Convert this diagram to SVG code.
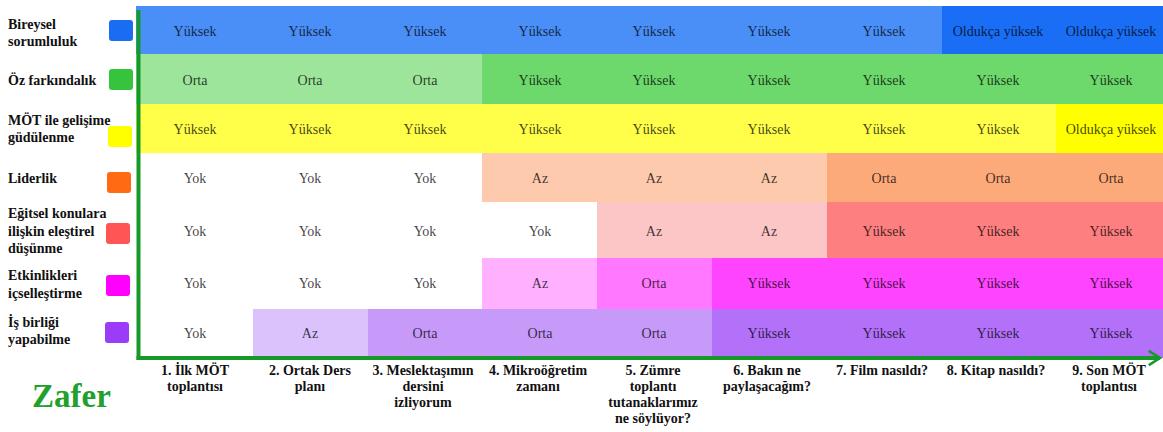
<svg xmlns="http://www.w3.org/2000/svg" width="1163" height="432" viewBox="0 0 1163 432">
  <style>
    text { font-family: "Liberation Serif", "Tinos", "Times New Roman", "DejaVu Serif", serif; }
    .lbl { font-weight: bold; font-size: 14px; fill: #111; }
    .col { font-weight: bold; font-size: 14px; fill: #111; text-anchor: middle; }
    .v { font-size: 14px; fill: #000; fill-opacity: 0.75; text-anchor: middle; }
    .title { font-weight: bold; font-size: 33px; fill: #22a02c; }
    .sw { rx: 3; ry: 3; }
    .cell { shape-rendering: crispEdges; }
    .axis { stroke: #17992a; stroke-width: 4; fill: none; }
  </style>
  <defs>
    <marker id="arrowhead" viewBox="0 0 10 10" refX="8" refY="5" markerWidth="4" markerHeight="5" orient="auto" markerUnits="strokeWidth">
      <polyline points="1,0.5 8,5 1,9.5" fill="none" stroke="#17992a" stroke-width="1.6"/>
    </marker>
  </defs>

  <rect width="1163" height="432" fill="#ffffff"/>

  <!-- Row 1: Bireysel sorumluluk -->
  <g id="row-bireysel">
    <text class="lbl" x="8" y="29">Bireysel</text>
    <text class="lbl" x="8" y="46">sorumluluk</text>
    <rect class="sw" x="109" y="20" width="24" height="21" fill="#1a6df2"/>
    <rect class="cell" x="136" y="6" width="805.6" height="48" fill="#4a8ff8"/>
    <rect class="cell" x="941.6" y="6" width="222" height="48" fill="#1a6ef5"/>
    <text class="v" x="195" y="36">Yüksek</text>
    <text class="v" x="310" y="36">Yüksek</text>
    <text class="v" x="425" y="36">Yüksek</text>
    <text class="v" x="540" y="36">Yüksek</text>
    <text class="v" x="654" y="36">Yüksek</text>
    <text class="v" x="769" y="36">Yüksek</text>
    <text class="v" x="884" y="36">Yüksek</text>
    <text class="v" x="998" y="36">Oldukça yüksek</text>
    <text class="v" x="1111" y="36">Oldukça yüksek</text>
  </g>

  <!-- Row 2: Öz farkındalık -->
  <g id="row-oz-farkindalik">
    <text class="lbl" x="8" y="85">Öz farkındalık</text>
    <rect class="sw" x="109" y="69" width="24" height="21" fill="#35c43b"/>
    <rect class="cell" x="136" y="54" width="346.4" height="50" fill="#9de59a"/>
    <rect class="cell" x="482.4" y="54" width="681" height="50" fill="#6dd86c"/>
    <text class="v" x="195" y="85">Orta</text>
    <text class="v" x="310" y="85">Orta</text>
    <text class="v" x="425" y="85">Orta</text>
    <text class="v" x="540" y="85">Yüksek</text>
    <text class="v" x="654" y="85">Yüksek</text>
    <text class="v" x="769" y="85">Yüksek</text>
    <text class="v" x="884" y="85">Yüksek</text>
    <text class="v" x="998" y="85">Yüksek</text>
    <text class="v" x="1111" y="85">Yüksek</text>
  </g>

  <!-- Row 3: MÖT ile gelişime güdülenme -->
  <g id="row-gudulenme">
    <rect class="cell" x="136" y="104" width="920.4" height="49" fill="#ffff4a"/>
    <rect class="cell" x="1056.4" y="104" width="107" height="49" fill="#ffff00"/>
    <rect class="sw" x="108" y="126" width="24" height="21" fill="#ffff00"/>
    <text class="lbl" x="8" y="125">MÖT ile gelişime</text>
    <text class="lbl" x="8" y="142">güdülenme</text>
    <text class="v" x="195" y="134">Yüksek</text>
    <text class="v" x="310" y="134">Yüksek</text>
    <text class="v" x="425" y="134">Yüksek</text>
    <text class="v" x="540" y="134">Yüksek</text>
    <text class="v" x="654" y="134">Yüksek</text>
    <text class="v" x="769" y="134">Yüksek</text>
    <text class="v" x="884" y="134">Yüksek</text>
    <text class="v" x="998" y="134">Yüksek</text>
    <text class="v" x="1111" y="134">Oldukça yüksek</text>
  </g>

  <!-- Row 4: Liderlik -->
  <g id="row-liderlik">
    <text class="lbl" x="8" y="183">Liderlik</text>
    <rect class="sw" x="107" y="172" width="24" height="21" fill="#ff6a12"/>
    <rect class="cell" x="482.4" y="153" width="344.4" height="49" fill="#fdcaad"/>
    <rect class="cell" x="826.8" y="153" width="337" height="49" fill="#fdaa7a"/>
    <text class="v" x="195" y="183">Yok</text>
    <text class="v" x="310" y="183">Yok</text>
    <text class="v" x="425" y="183">Yok</text>
    <text class="v" x="540" y="183">Az</text>
    <text class="v" x="654" y="183">Az</text>
    <text class="v" x="769" y="183">Az</text>
    <text class="v" x="884" y="183">Orta</text>
    <text class="v" x="998" y="183">Orta</text>
    <text class="v" x="1111" y="183">Orta</text>
  </g>

  <!-- Row 5: Eğitsel konulara ilişkin eleştirel düşünme -->
  <g id="row-elestirel">
    <text class="lbl" x="8" y="218">Eğitsel konulara</text>
    <text class="lbl" x="8" y="236">ilişkin eleştirel</text>
    <text class="lbl" x="8" y="253">düşünme</text>
    <rect class="sw" x="106" y="223" width="24" height="21" fill="#ff5555"/>
    <rect class="cell" x="597.2" y="202" width="229.6" height="56" fill="#fcc5c6"/>
    <rect class="cell" x="826.8" y="202" width="337" height="56" fill="#fe7f7f"/>
    <text class="v" x="195" y="236">Yok</text>
    <text class="v" x="310" y="236">Yok</text>
    <text class="v" x="425" y="236">Yok</text>
    <text class="v" x="540" y="236">Yok</text>
    <text class="v" x="654" y="236">Az</text>
    <text class="v" x="769" y="236">Az</text>
    <text class="v" x="884" y="236">Yüksek</text>
    <text class="v" x="998" y="236">Yüksek</text>
    <text class="v" x="1111" y="236">Yüksek</text>
  </g>

  <!-- Row 6: Etkinlikleri içselleştirme -->
  <g id="row-icsellestirme">
    <text class="lbl" x="8" y="280">Etkinlikleri</text>
    <text class="lbl" x="8" y="298">içselleştirme</text>
    <rect class="sw" x="106" y="275" width="24" height="21" fill="#ff00ff"/>
    <rect class="cell" x="482.4" y="258" width="114.8" height="51" fill="#ffb0ff"/>
    <rect class="cell" x="597.2" y="258" width="114.8" height="51" fill="#ff78ff"/>
    <rect class="cell" x="712" y="258" width="452" height="51" fill="#ff44ff"/>
    <text class="v" x="195" y="288">Yok</text>
    <text class="v" x="310" y="288">Yok</text>
    <text class="v" x="425" y="288">Yok</text>
    <text class="v" x="540" y="288">Az</text>
    <text class="v" x="654" y="288">Orta</text>
    <text class="v" x="769" y="288">Yüksek</text>
    <text class="v" x="884" y="288">Yüksek</text>
    <text class="v" x="998" y="288">Yüksek</text>
    <text class="v" x="1111" y="288">Yüksek</text>
  </g>

  <!-- Row 7: İş birliği yapabilme -->
  <g id="row-is-birligi">
    <text class="lbl" x="8" y="327">İş birliği</text>
    <text class="lbl" x="8" y="344">yapabilme</text>
    <rect class="sw" x="105" y="322" width="24" height="21" fill="#9a3cf8"/>
    <rect class="cell" x="252.8" y="309" width="114.8" height="49" fill="#dcc2fd"/>
    <rect class="cell" x="367.6" y="309" width="344.4" height="49" fill="#c79afa"/>
    <rect class="cell" x="712" y="309" width="452" height="49" fill="#b370f9"/>
    <text class="v" x="195" y="338">Yok</text>
    <text class="v" x="310" y="338">Az</text>
    <text class="v" x="425" y="338">Orta</text>
    <text class="v" x="540" y="338">Orta</text>
    <text class="v" x="654" y="338">Orta</text>
    <text class="v" x="769" y="338">Yüksek</text>
    <text class="v" x="884" y="338">Yüksek</text>
    <text class="v" x="998" y="338">Yüksek</text>
    <text class="v" x="1111" y="338">Yüksek</text>
  </g>

  <!-- Axes -->
  <g id="connectors">
    <line class="axis" x1="138.5" y1="10" x2="138.5" y2="360"/>
    <line class="axis" x1="136.5" y1="358" x2="1160" y2="358" marker-end="url(#arrowhead)"/>
  </g>

  <!-- Stage labels along the horizontal axis -->
  <g id="stages">
    <text class="col" x="195" y="375">1.  İlk MÖT</text>
    <text class="col" x="195" y="391">toplantısı</text>
    <text class="col" x="310" y="375">2. Ortak Ders</text>
    <text class="col" x="310" y="391">planı</text>
    <text class="col" x="423" y="375">3. Meslektaşımın</text>
    <text class="col" x="423" y="391">dersini</text>
    <text class="col" x="423" y="407">izliyorum</text>
    <text class="col" x="538" y="375">4. Mikroöğretim</text>
    <text class="col" x="538" y="391">zamanı</text>
    <text class="col" x="653" y="375">5. Zümre</text>
    <text class="col" x="653" y="391">toplantı</text>
    <text class="col" x="653" y="407">tutanaklarımız</text>
    <text class="col" x="653" y="423">ne söylüyor?</text>
    <text class="col" x="767" y="375">6. Bakın ne</text>
    <text class="col" x="767" y="391">paylaşacağım?</text>
    <text class="col" x="882" y="375">7. Film nasıldı?</text>
    <text class="col" x="996" y="375">8. Kitap nasıldı?</text>
    <text class="col" x="1109" y="375">9. Son MÖT</text>
    <text class="col" x="1109" y="391">toplantısı</text>
  </g>

  <g id="title">
    <text class="title" x="32" y="407">Zafer</text>
  </g>
</svg>
